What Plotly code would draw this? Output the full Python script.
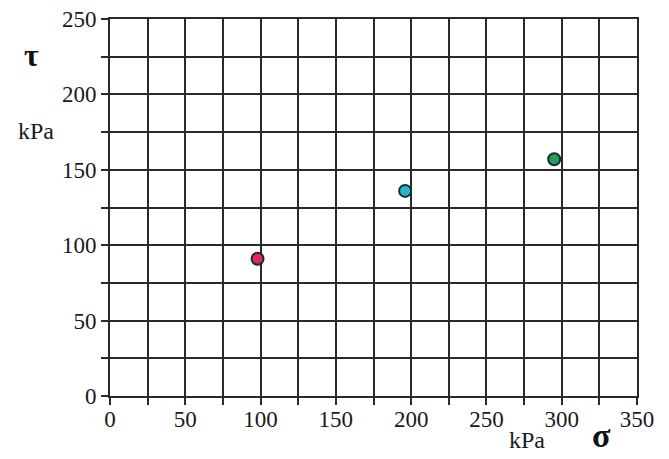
import plotly.graph_objects as go

sigma = [98, 196, 295]
tau = [91, 136, 157]
colors = ["#e0285a", "#20b8c8", "#20a050"]
x_ticks = [0, 50, 100, 150, 200, 250, 300, 350]
y_ticks = [0, 50, 100, 150, 200, 250]

fig = go.Figure()
fig.add_trace(go.Scatter(
    x=sigma, y=tau, mode="markers",
    marker=dict(size=12, color=colors, line=dict(color="#1a2a40", width=2)),
    showlegend=False, cliponaxis=False,
))

font = dict(family="Liberation Serif", size=23, color="#1a1a1a")
grid = "#2a2a2a"
OFF = 8  # page body margin offset
W, H = 669, 459
# target plot box in window pixels: left 110, right 637, top 19, bottom 396
l, t = 110 - OFF, 19 - OFF
r = W - (637 - OFF)
b = H - (396 - OFF)
pw, ph = W - l - r, H - t - b


def px(x):
    return (x - OFF - l) / pw


def py(y):
    return (H - b - (y - OFF)) / ph


axis_common = dict(
    ticks="outside", ticklen=7, tickcolor=grid, tickwidth=1.5,
    showgrid=True, gridcolor=grid, gridwidth=1.5,
    showline=True, linecolor=grid, linewidth=2, mirror=True, zeroline=False,
    tickfont=font, ticklabeloverflow="allow",
)
minor = dict(dtick=25, tick0=0, ticks="outside", ticklen=7, tickcolor=grid,
             tickwidth=1.5, showgrid=True, gridcolor=grid, gridwidth=1.5)

fig.update_layout(
    width=W, height=H,
    margin=dict(l=l, r=r, t=t, b=b, autoexpand=False),
    paper_bgcolor="white", plot_bgcolor="white",
    font=font,
    xaxis=dict(range=[0, 350], tickvals=x_ticks, minor=minor,
               ticklabelstandoff=-6, **axis_common),
    yaxis=dict(range=[0, 250], tickvals=y_ticks, minor=minor, **axis_common),
    annotations=[
        dict(text="<b>τ</b>", x=px(31), y=py(55), xref="paper", yref="paper",
             xanchor="center", yanchor="middle", showarrow=False,
             font=dict(family="Liberation Serif", size=32, color="#111")),
        dict(text="kPa", x=px(36), y=py(131), xref="paper", yref="paper",
             xanchor="center", yanchor="middle", showarrow=False,
             font=dict(family="Liberation Serif", size=24, color="#1a1a1a")),
        dict(text="kPa", x=px(527), y=py(440), xref="paper", yref="paper",
             xanchor="center", yanchor="middle", showarrow=False,
             font=dict(family="Liberation Serif", size=24, color="#1a1a1a")),
        dict(text="<b>σ</b>", x=px(601), y=py(436), xref="paper", yref="paper",
             xanchor="center", yanchor="middle", showarrow=False,
             font=dict(family="Liberation Serif", size=34, color="#111")),
    ],
)

fig.add_shape(type="line", xref="paper", yref="paper",
              x0=px(667), x1=px(667), y0=py(459), y1=py(0),
              line=dict(color="#c8c8c8", width=2))

fig.write_html("out.html")
